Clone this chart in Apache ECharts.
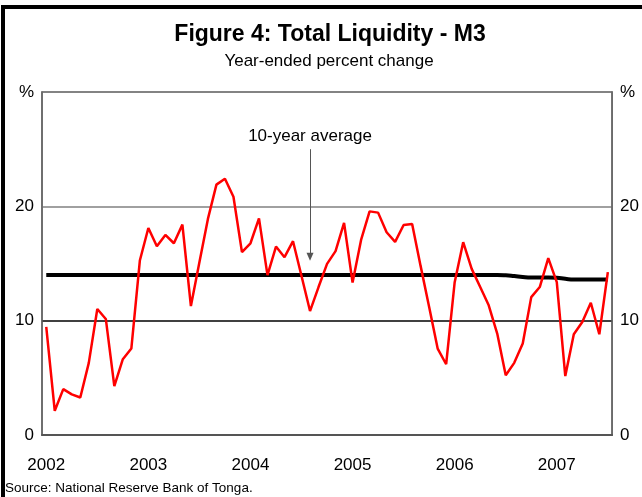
<!DOCTYPE html>
<html>
<head>
<meta charset="utf-8">
<script src="https://cdn.jsdelivr.net/npm/echarts@6/dist/echarts.min.js"></script>
<style>
  html, body {margin: 0; padding: 0; background: #fff;}
  #myChart {width: 642px; height: 497px;}
</style>
</head>
<body>
<div id="myChart"></div>
<script>
// 月份 2002-01 .. 2007-07
let years = ['2002', '2003', '2004', '2005', '2006', '2007'];
let months = [];
years.forEach(y => {
    for (let m = 1; m <= 12; m++) {
        if (y === '2007' && m > 7) break;
        months.push(y + '-' + (m < 10 ? '0' + m : m));
    }
});

// M3 year-ended % change
let m3Growth = [
    9.45, 2.12, 4.01, 3.55, 3.28, 6.31, 11.02, 10.15, 4.27, 6.63, 7.56, 15.26,
    18.11, 16.51, 17.5, 16.77, 18.4, 11.28, 15.1, 18.9, 21.9, 22.41, 20.84, 15.99,
    16.77, 18.95, 13.98, 16.48, 15.55, 16.95, 13.9, 10.84, 12.94, 14.97, 16.08, 18.55,
    13.34, 17.06, 19.56, 19.45, 17.73, 16.89, 18.37, 18.46, 14.77, 11.2, 7.56, 6.19,
    13.37, 16.86, 14.53, 12.94, 11.34, 8.87, 5.23, 6.31, 8.0, 12.06, 12.94, 15.47,
    13.37, 5.15, 8.81, 9.88, 11.57, 8.81, 14.24
];

// 10-year average
let tenYearAvg = [
    14.0, 14.0, 14.0, 14.0, 14.0, 14.0, 14.0, 14.0, 14.0, 14.0, 14.0, 14.0,
    14.0, 14.0, 14.0, 14.0, 14.0, 14.0, 14.0, 14.0, 14.0, 14.0, 14.0, 14.0,
    14.0, 14.0, 14.0, 14.0, 14.0, 14.0, 14.0, 14.0, 14.0, 14.0, 14.0, 14.0,
    14.0, 14.0, 14.0, 14.0, 14.0, 14.0, 14.0, 14.0, 14.0, 14.0, 14.0, 14.0,
    14.0, 14.0, 14.0, 14.0, 14.0, 14.0, 13.97, 13.9, 13.82, 13.78, 13.78, 13.78,
    13.75, 13.66, 13.6, 13.6, 13.6, 13.6, 13.6
];

let yTicks = {min: 0, max: 30, interval: 10};
let annotation = {label: '10-year average', month: '2004-08', from: 25, to: 15.6};

let font = 'Arial, "Liberation Sans", sans-serif';
let myChart = echarts.init(document.getElementById('myChart'));

let yLabel = {
    fontSize: 17,
    color: '#000',
    fontFamily: font,
    margin: 8,
    formatter: v => v === yTicks.max ? '%' : String(v)
};

let option = {
    animation: false,
    grid: {
        left: 42, right: 28, top: 92, bottom: 62,
        show: true, borderColor: '#666', borderWidth: 1.5
    },
    xAxis: {
        type: 'category',
        data: months,
        boundaryGap: true,
        axisTick: {show: false},
        axisLine: {lineStyle: {color: '#555', width: 2}},
        axisLabel: {
            interval: i => i % 12 === 0,
            formatter: v => v.slice(0, 4),
            fontSize: 17, color: '#000', fontFamily: font, margin: 22
        }
    },
    yAxis: [{
        type: 'value',
        min: yTicks.min, max: yTicks.max, interval: yTicks.interval,
        axisLine: {show: true, lineStyle: {color: '#666', width: 1.5}},
        axisTick: {show: false},
        axisLabel: yLabel,
        splitLine: {lineStyle: {color: ['#555', '#000', '#808080', '#808080'], width: 1.5}}
    }, {
        type: 'value',
        position: 'right',
        min: yTicks.min, max: yTicks.max, interval: yTicks.interval,
        axisLine: {show: true, lineStyle: {color: '#666', width: 1.5}},
        axisTick: {show: false},
        axisLabel: yLabel,
        splitLine: {show: false}
    }],
    series: [{
        name: '10-year average',
        type: 'line',
        data: tenYearAvg,
        smooth: true,
        showSymbol: false,
        lineStyle: {color: '#000', width: 4},
        z: 2,
        markLine: {
            silent: true,
            symbol: ['none', 'triangle'],
            symbolSize: [7, 8],
            lineStyle: {color: '#555', width: 1, type: 'solid'},
            label: {
                show: true, position: 'start', distance: 4,
                formatter: annotation.label,
                fontSize: 17, color: '#000', fontFamily: font
            },
            data: [[
                {coord: [annotation.month, annotation.from]},
                {coord: [annotation.month, annotation.to]}
            ]]
        }
    }, {
        name: 'M3',
        type: 'line',
        data: m3Growth,
        showSymbol: false,
        lineStyle: {color: '#ff0000', width: 2.5},
        z: 3
    }],
    graphic: [
        // 外框
        {type: 'polyline', shape: {points: [[3, 497], [3, 7], [642, 7]]},
         style: {stroke: '#000', lineWidth: 4, fill: null}},
        {type: 'text', x: 330, y: 35,
         style: {text: 'Figure 4: Total Liquidity - M3', font: 'bold 23px ' + font,
                 fill: '#000', textAlign: 'center', textVerticalAlign: 'middle'}},
        {type: 'text', x: 329, y: 61,
         style: {text: 'Year-ended percent change', font: '17px ' + font,
                 fill: '#000', textAlign: 'center', textVerticalAlign: 'middle'}},
        {type: 'text', x: 5, y: 488,
         style: {text: 'Source: National Reserve Bank of Tonga.', font: '13.5px ' + font,
                 fill: '#000', textAlign: 'left', textVerticalAlign: 'middle'}}
    ]
};

myChart.setOption(option);
</script>
</body>
</html>
